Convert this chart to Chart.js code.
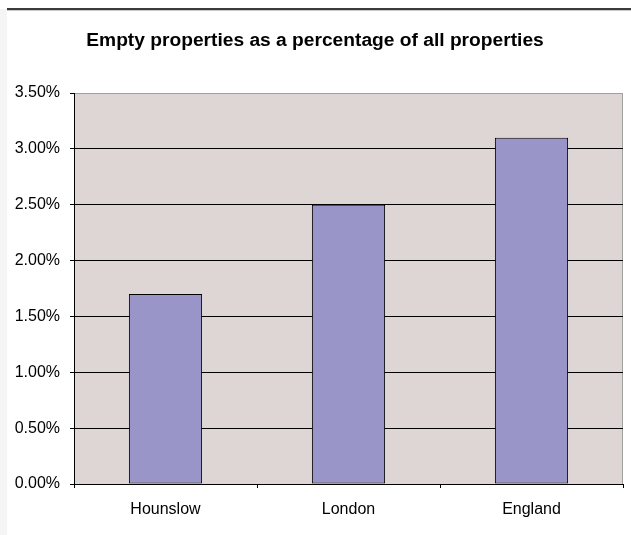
<!DOCTYPE html>
<html>
<head>
<meta charset="utf-8">
<script src="https://cdn.jsdelivr.net/npm/chart.js@4/dist/chart.umd.min.js"></script>
<style>
  html, body { margin: 0; padding: 0; background: #fff; }
  #wrap { width: 631px; height: 535px; }
</style>
</head>
<body>
<div id="wrap"><canvas id="emptyChart" width="631" height="535"></canvas></div>
<script>
// chart data
const areas = ["Hounslow", "London", "England"];
const emptyPct = [1.7, 2.5, 3.1];
const yTicks = [0, 0.5, 1, 1.5, 2, 2.5, 3, 3.5];

const FONT = "'Liberation Sans', Arial, sans-serif";

// plot background, frame and the page rule at the top
const frame = {
  id: "frame",
  beforeDraw(chart) {
    const { ctx, chartArea: a } = chart;
    ctx.save();
    ctx.fillStyle = "#f5f5f5";
    ctx.fillRect(0, 9, 7, chart.height - 9);
    ctx.fillStyle = "#3c3c3c";
    ctx.fillRect(7, 8, chart.width - 7, 2);
    ctx.fillStyle = "#c8c8c8";
    ctx.fillRect(7, 10, chart.width - 7, 1);
    ctx.fillStyle = "#ddd6d4";
    ctx.fillRect(a.left, a.top, a.right - a.left, a.bottom - a.top);
    ctx.strokeStyle = "#a0a0a0";
    ctx.lineWidth = 1;
    ctx.beginPath();
    ctx.moveTo(a.left, a.top + 0.5);
    ctx.lineTo(a.right - 0.5, a.top + 0.5);
    ctx.lineTo(a.right - 0.5, a.bottom);
    ctx.stroke();
    ctx.restore();
  },
};

new Chart(document.getElementById("emptyChart"), {
  type: "bar",
  data: {
    labels: areas,
    datasets: [
      {
        data: emptyPct,
        backgroundColor: "#9a95c9",
        borderColor: "#000000",
        borderWidth: 1,
        borderSkipped: false,
        barPercentage: 0.4,
        categoryPercentage: 1,
      },
    ],
  },
  options: {
    responsive: false,
    animation: false,
    layout: { padding: { left: 7, right: 8, top: 0, bottom: 0 } },
    plugins: {
      legend: { display: false },
      tooltip: { enabled: false },
      title: {
        display: true,
        text: "Empty properties as a percentage of all properties",
        color: "#000",
        font: { family: FONT, size: 19.2, weight: "bold" },
        padding: { top: 29, bottom: 41 },
      },
    },
    scales: {
      x: {
        afterFit: (scale) => { scale.height = 51; },
        grid: {
          offset: true,
          drawOnChartArea: false,
          drawTicks: true,
          tickLength: 4,
          tickColor: "#000",
        },
        border: { display: true, color: "#000", width: 1 },
        ticks: {
          color: "#000",
          padding: 12,
          font: { family: FONT, size: 16 },
        },
      },
      y: {
        min: 0,
        max: 3.5,
        afterFit: (scale) => { scale.width = 67; },
        afterBuildTicks: (scale) => {
          scale.ticks = yTicks.map((v) => ({ value: v }));
        },
        grid: {
          color: (c) => (c.tick && c.tick.value === 3.5 ? "#a0a0a0" : "#000"),
          tickColor: "#000",
          tickLength: 4,
        },
        border: { display: true, color: "#000", width: 1 },
        ticks: {
          color: "#000",
          padding: 10,
          font: { family: FONT, size: 16 },
          callback: (v) => Number(v).toFixed(2) + "%",
        },
      },
    },
  },
  plugins: [frame],
});
</script>
</body>
</html>
